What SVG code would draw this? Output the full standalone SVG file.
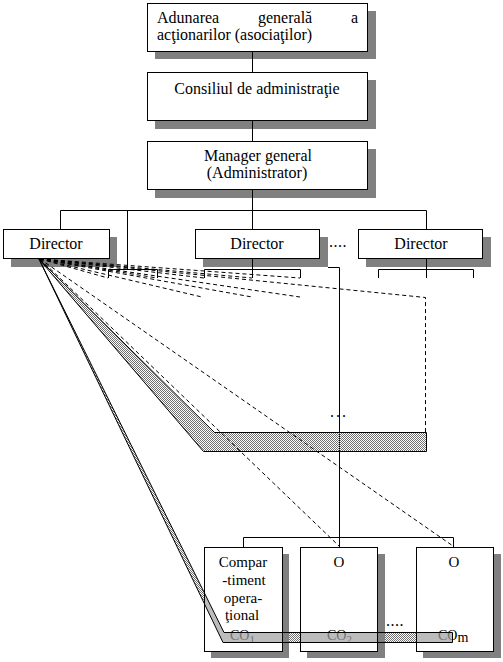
<svg xmlns="http://www.w3.org/2000/svg" width="503" height="662" viewBox="0 0 503 662">
<style>
  .box{fill:#fff;stroke:#000;stroke-width:1}
  .sh{fill:#808080}
  .t{font-family:'Liberation Serif','DejaVu Serif',serif;font-size:16px;fill:#000}
  .ts{font-family:'Liberation Serif','DejaVu Serif',serif;font-size:15px;fill:#000}
  .tc{font-family:'Liberation Serif','DejaVu Serif',serif;font-size:14px;fill:#000}
  .c{text-anchor:middle}
  .ln{stroke:#000;stroke-width:1;fill:none}
  .ds{stroke:#000;stroke-width:1;fill:none;stroke-dasharray:4 3}
</style>
<defs>
  <pattern id="chk" width="2" height="2" patternUnits="userSpaceOnUse">
    <rect x="0" y="0" width="1" height="1" fill="#707070"/>
    <rect x="1" y="1" width="1" height="1" fill="#707070"/>
  </pattern>
  <clipPath id="inbox">
    <rect x="205" y="548" width="77" height="103"/>
    <rect x="301" y="548" width="76" height="103"/>
    <rect x="417" y="548" width="76" height="103"/>
  </clipPath>
</defs>
<rect width="503" height="662" fill="#fff"/>

<g id="adunarea">
  <rect class="sh" x="155" y="11" width="221" height="48"/>
  <rect class="box" x="147.5" y="3.5" width="220" height="48"/>
  <text class="t" x="157" y="23">Adunarea</text>
  <text class="t" x="258" y="23">generală</text>
  <text class="t" x="358" y="23" text-anchor="end">a</text>
  <text class="t" x="157" y="40">acţionarilor (asociaţilor)</text>
</g>
<g id="consiliul">
  <rect class="sh" x="155" y="80" width="221" height="49"/>
  <rect class="box" x="147.5" y="72.5" width="220" height="48"/>
  <text class="t c" x="257" y="94">Consiliul de administraţie</text>
</g>
<g id="manager">
  <rect class="sh" x="155" y="149" width="221" height="49"/>
  <rect class="box" x="147.5" y="141.5" width="220" height="48"/>
  <text class="t c" x="258" y="161">Manager general</text>
  <text class="t c" x="257" y="178">(Administrator)</text>
</g>
<g id="director1">
  <rect class="sh" x="11" y="237" width="106" height="30"/>
  <rect class="box" x="3.5" y="229.5" width="106" height="29"/>
  <text class="t c" x="56" y="249">Director</text>
</g>
<g id="director2">
  <rect class="sh" x="203" y="237" width="125" height="30"/>
  <rect class="box" x="195.5" y="229.5" width="124" height="29"/>
  <text class="t c" x="257" y="249">Director</text>
</g>
<g id="director3">
  <rect class="sh" x="366" y="237" width="125" height="30"/>
  <rect class="box" x="358.5" y="229.5" width="124" height="29"/>
  <text class="t c" x="421" y="249">Director</text>
</g>
<text class="t" x="329" y="247" letter-spacing="0.5">....</text>

<g id="connectors">
  <path class="ln" d="M252.5 51.5V72.5 M252.5 120.5V141.5 M252.5 189.5V229.5"/>
  <path class="ln" d="M60.5 229.5V210.5H426.5V229.5"/>
  <path class="ln" d="M127.5 210.5V269.5"/>
  <path class="ln" d="M108.5 278V269.5H157.5V278"/>
  <path class="ln" d="M204.5 278V269.5H300.5V278 M252.5 258.5V278"/>
  <path class="ln" d="M378.5 278V269.5H473.5V278 M426.5 258.5V278"/>
  <path class="ln" d="M328 267.5H339.5V547.5"/>
  <path class="ln" d="M243.5 547.5V537.5H453.5V547.5"/>
</g>

<g id="band-upper">
  <polygon points="39,259 214.5,432.5 426.5,432.5 426.5,451.5 203.5,451.5" fill="url(#chk)" stroke="#000" stroke-width="1"/>
</g>
<text class="t" x="330" y="417" letter-spacing="2">...</text>

<g id="dashed">
  <path class="ds" d="M40 259L108 278 M40 259L157 278"/>
  <path class="ds" d="M40 259L204 278 M40 259L252 278 M40 259L300 278"/>
  <path class="ds" d="M40 259L202 297 M40 259L252 297 M40 259L300 297"/>
  <path class="ds" d="M40 259L425.5 297.5V432"/>
  <path class="ds" d="M40 259L339 546 M40 259L453 546"/>
</g>

<polygon points="39,259 224,632.5 452.5,632.5 452.5,642.5 223,642.5" fill="url(#chk)"/>

<g id="co1">
  <rect class="sh" x="211" y="554" width="78" height="104"/>
  <rect class="box" x="204.5" y="547.5" width="78" height="104"/>
  <text class="ts c" x="243" y="567">Compar</text>
  <text class="ts c" x="244" y="585">-timent</text>
  <text class="ts c" x="243" y="603">opera-</text>
  <text class="ts c" x="242" y="620">ţional</text>
  <text class="tc" x="230" y="640">CO<tspan font-size="11" dy="3">1</tspan></text>
</g>
<g id="co2">
  <rect class="sh" x="307" y="554" width="78" height="104"/>
  <rect class="box" x="300.5" y="547.5" width="77" height="104"/>
  <text class="ts c" x="339" y="567">O</text>
  <text class="tc" x="327" y="640">CO<tspan font-size="11" dy="3">2</tspan></text>
</g>
<g id="com">
  <rect class="sh" x="423" y="554" width="78" height="104"/>
  <rect class="box" x="416.5" y="547.5" width="77" height="104"/>
  <text class="ts c" x="454" y="567">O</text>
  <text class="tc" x="438" y="640">CO<tspan dy="2">m</tspan></text>
</g>
<text class="t" x="386" y="626" letter-spacing="0.5">....</text>

<g id="band-lower">
  <polygon clip-path="url(#inbox)" points="39,259 224,632.5 452.5,632.5 452.5,642.5 223,642.5" fill="#a0a0a0" fill-opacity="0.7"/>
  <polygon points="39,259 224,632.5 452.5,632.5 452.5,642.5 223,642.5" fill="none" stroke="#000" stroke-width="1"/>
</g>
</svg>
